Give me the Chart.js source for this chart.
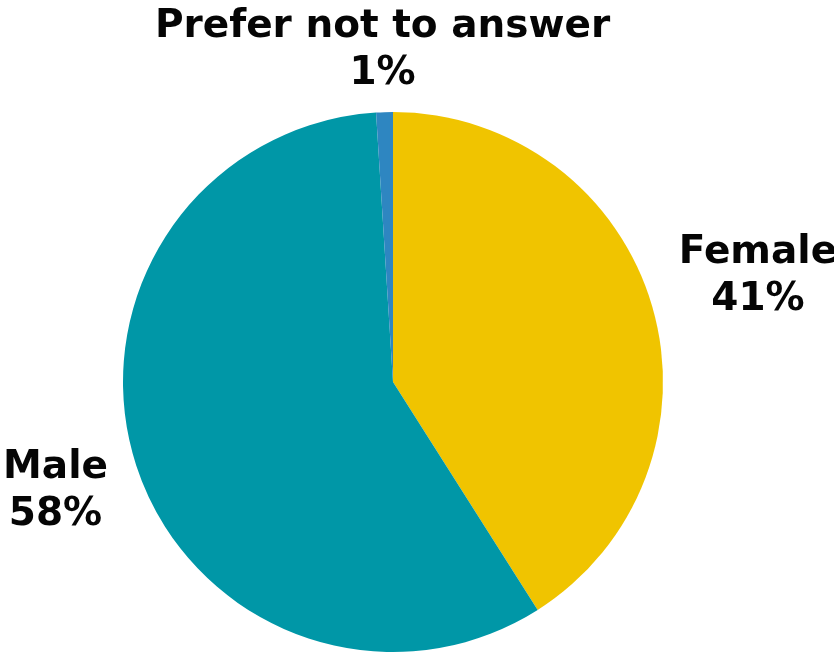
<!DOCTYPE html>
<html lang="en">
<head>
  <meta charset="UTF-8" />
  <title>Gender split</title>
  <script src="https://cdnjs.cloudflare.com/ajax/libs/Chart.js/4.4.1/chart.umd.js"></script>
  <style>
    html, body {
      margin: 0;
      background: #fff;
    }
    #wrap {
      width: 834px;
      height: 654px;
    }
  </style>
</head>
<body>
  <div id="wrap"><canvas id="pie"></canvas></div>

  <script>
    const labels = ['Female', 'Male', 'Prefer not to answer'];
    const values = [41, 58, 1];
    const colors = ['#F0C400', '#0097A7', '#2E86C1'];

    // outside labels: name on top, percent below, pushed out along the slice's mid angle
    const outsideLabels = {
      id: 'outsideLabels',
      afterDatasetsDraw(chart) {
        const ctx = chart.ctx;
        const meta = chart.getDatasetMeta(0);
        const lineH = 47;
        ctx.save();
        ctx.font = 'bold 39px "DejaVu Sans", sans-serif';
        ctx.fillStyle = '#050505';
        ctx.textAlign = 'center';
        ctx.textBaseline = 'middle';
        meta.data.forEach((arc, i) => {
          const p = arc.getProps(['x', 'y', 'startAngle', 'endAngle', 'outerRadius'], true);
          const mid = (p.startAngle + p.endAngle) / 2;
          const dx = Math.cos(mid), dy = Math.sin(mid);
          const lines = [labels[i], values[i] + '%'];
          const halfW = Math.max(...lines.map(t => ctx.measureText(t).width)) / 2;
          const dist = p.outerRadius + 26 + Math.abs(dx) * halfW + Math.abs(dy) * 29;
          const cx = p.x + dx * dist;
          const cy = p.y + dy * dist;
          ctx.fillText(lines[0], cx, cy - lineH / 2);
          ctx.fillText(lines[1], cx, cy + lineH / 2);
        });
        ctx.restore();
      }
    };

    new Chart(document.getElementById('pie'), {
      type: 'pie',
      data: {
        labels: labels,
        datasets: [{
          data: values,
          backgroundColor: colors,
          borderWidth: 0,
        }]
      },
      options: {
        responsive: true,
        maintainAspectRatio: false,
        animation: false,
        layout: {
          padding: { top: 112, bottom: 2, left: 123, right: 171 }
        },
        plugins: {
          legend: { display: false },
          tooltip: { enabled: false }
        }
      },
      plugins: [outsideLabels]
    });
  </script>
</body>
</html>
